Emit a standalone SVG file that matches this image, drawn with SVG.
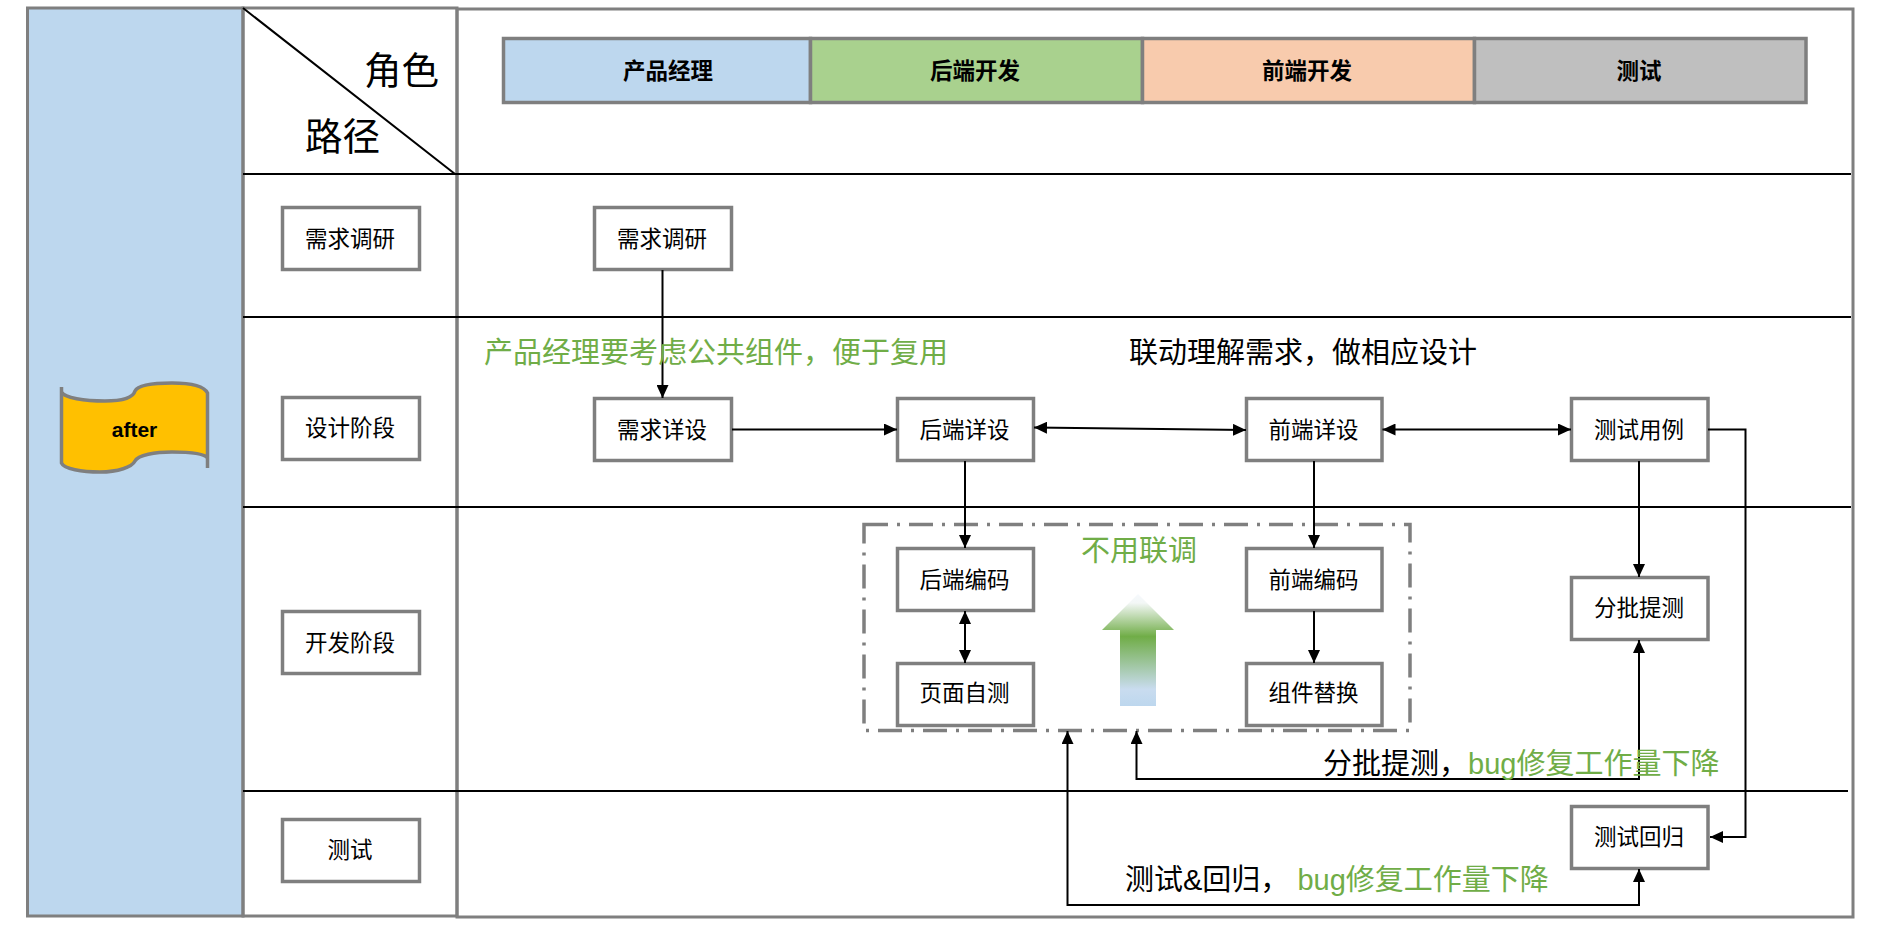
<svg xmlns="http://www.w3.org/2000/svg" width="1880" height="952" viewBox="0 0 1880 952">
<style>
text{font-family:"Noto Sans CJK SC","Liberation Sans",sans-serif;fill:#000}
.box{fill:#fff;stroke:#7f7f7f;stroke-width:3.5}
.lab{font-size:22.5px;text-anchor:middle;dominant-baseline:central}
.hd{font-size:22.5px;font-weight:700;text-anchor:middle;dominant-baseline:central}
.big{font-size:29px}
.g{fill:#70ad47}
.lat{font-family:"Liberation Sans",sans-serif}
.frame{fill:none;stroke:#7f7f7f;stroke-width:3}
.rule{stroke:#000;stroke-width:2;fill:none}
.c{stroke:#000;stroke-width:2;fill:none}
</style>
<defs>
<marker id="a" markerUnits="userSpaceOnUse" markerWidth="14" markerHeight="12" refX="13" refY="6" orient="auto-start-reverse"><path d="M0,0L13,6L0,12Z" fill="#000"/></marker>
<linearGradient id="up" gradientUnits="userSpaceOnUse" x1="0" y1="594" x2="0" y2="706">
<stop offset="0" stop-color="#f6f9fd"/><stop offset=".08" stop-color="#f3f7f6"/><stop offset=".38" stop-color="#70ad47"/><stop offset=".85" stop-color="#c9dcef"/><stop offset="1" stop-color="#bdd7ee"/>
</linearGradient>
</defs>
<g id="frames">
<rect x="27.500" y="8" width="215.500" height="908" fill="#bdd7ee" stroke="#7f7f7f" stroke-width="3"/>
<rect x="243" y="8" width="214" height="908" class="frame" fill="#fff"/>
<rect x="457" y="9" width="1396" height="908" class="frame"/>
<path class="rule" d="M243,8L455,174M243,174H1851M243,317H1851M243,507H1851M243,791H1848"/>
</g>
<g id="flag">
<path d="M61.500,387V392C64,398 85,401 105,401C122,401 133,398 135,391C138,385 155,383 172,383C190,383 204,386 207.500,393V468V458C204,453 188,452 172,452C155,452 138,455 135,461C132,467 118,472 100,472C82,472 64,469 61.500,463Z" fill="#ffc000" stroke="#7f7f7f" stroke-width="3.500"/>
<text x="134.500" y="429.500" font-size="21" font-weight="700" text-anchor="middle" dominant-baseline="central" style="font-family:'Liberation Sans',sans-serif">after</text>
</g>
<g id="corner-role"><text x="364" y="84" font-size="37.500">角色</text></g>
<g id="corner-path"><text x="305" y="150" font-size="37.500">路径</text></g>
<g id="role-pm"><rect x="503.500" y="38.500" width="307" height="64" fill="#bdd7ee" stroke="#7f7f7f" stroke-width="3.500"/><text class="hd" x="668" y="68.500">产品经理</text></g>
<g id="role-be"><rect x="810.500" y="38.500" width="332" height="64" fill="#a9d18e" stroke="#7f7f7f" stroke-width="3.500"/><text class="hd" x="975" y="68.500">后端开发</text></g>
<g id="role-fe"><rect x="1142.500" y="38.500" width="332" height="64" fill="#f8cbad" stroke="#7f7f7f" stroke-width="3.500"/><text class="hd" x="1307" y="68.500">前端开发</text></g>
<g id="role-qa"><rect x="1474.500" y="38.500" width="331.500" height="64" fill="#bfbfbf" stroke="#7f7f7f" stroke-width="3.500"/><text class="hd" x="1639" y="68.500">测试</text></g>
<g id="row-research"><rect class="box" x="282.500" y="207.500" width="137" height="62"/><text class="lab" x="350" y="236.500">需求调研</text></g>
<g id="row-design"><rect class="box" x="282.500" y="397.500" width="137" height="62"/><text class="lab" x="350" y="426">设计阶段</text></g>
<g id="row-dev"><rect class="box" x="282.500" y="611.500" width="137" height="62"/><text class="lab" x="350" y="640.500">开发阶段</text></g>
<g id="row-test"><rect class="box" x="282.500" y="819.500" width="137" height="62"/><text class="lab" x="350" y="848">测试</text></g>
<g id="dashed-group"><rect x="864" y="524.500" width="546" height="206" fill="none" stroke="#7f7f7f" stroke-width="3.500" stroke-dasharray="24 9 3 9"/></g>
<g id="big-arrow"><path d="M1138,594L1174,630H1156V706H1120V630H1102Z" fill="url(#up)"/></g>
<g id="n1"><rect class="box" x="594.500" y="207.500" width="137" height="62"/><text class="lab" x="662" y="236.500">需求调研</text></g>
<g id="n2"><rect class="box" x="594.500" y="398.500" width="137" height="62"/><text class="lab" x="662" y="427.500">需求详设</text></g>
<g id="n3"><rect class="box" x="897.500" y="398.500" width="136" height="62"/><text class="lab" x="964.500" y="427.500">后端详设</text></g>
<g id="n4"><rect class="box" x="1246.500" y="398.500" width="135.500" height="62"/><text class="lab" x="1313.500" y="427.500">前端详设</text></g>
<g id="n5"><rect class="box" x="1571.500" y="398.500" width="136.500" height="62"/><text class="lab" x="1639" y="427.500">测试用例</text></g>
<g id="n6"><rect class="box" x="897.500" y="548.500" width="136" height="62"/><text class="lab" x="964.500" y="577.500">后端编码</text></g>
<g id="n7"><rect class="box" x="897.500" y="663.500" width="136" height="62"/><text class="lab" x="964.500" y="691">页面自测</text></g>
<g id="n8"><rect class="box" x="1246.500" y="548.500" width="135.500" height="62"/><text class="lab" x="1313.500" y="577.500">前端编码</text></g>
<g id="n9"><rect class="box" x="1246.500" y="663.500" width="135.500" height="62"/><text class="lab" x="1313.500" y="691">组件替换</text></g>
<g id="n10"><rect class="box" x="1571.500" y="577.500" width="136.500" height="62"/><text class="lab" x="1639" y="605.500">分批提测</text></g>
<g id="n11"><rect class="box" x="1571.500" y="806.500" width="136.500" height="62"/><text class="lab" x="1639" y="835">测试回归</text></g>
<g id="connectors">
<path class="c" d="M662.500,270V398" marker-end="url(#a)"/>
<path class="c" d="M732,429.500H897" marker-end="url(#a)"/>
<path class="c" d="M1034,427.500L1246,430" marker-start="url(#a)" marker-end="url(#a)"/>
<path class="c" d="M1382.500,429.500H1571" marker-start="url(#a)" marker-end="url(#a)"/>
<path class="c" d="M965,461V548" marker-end="url(#a)"/>
<path class="c" d="M1314,461V548" marker-end="url(#a)"/>
<path class="c" d="M1639,461V577" marker-end="url(#a)"/>
<path class="c" d="M1708,429.500H1745.500V837H1710" marker-end="url(#a)"/>
<path class="c" d="M965,611V663" marker-start="url(#a)" marker-end="url(#a)"/>
<path class="c" d="M1314,611V663" marker-end="url(#a)"/>
<path class="c" d="M1639,640V779H1136.500V731" marker-start="url(#a)" marker-end="url(#a)"/>
<path class="c" d="M1067.500,731V905H1639V869" marker-start="url(#a)" marker-end="url(#a)"/>
</g>
<g id="notes">
<text class="big g" x="484" y="362.500">产品经理要考虑公共组件，便于复用</text>
<text class="big" x="1129" y="362.500">联动理解需求，做相应设计</text>
<text class="big g" x="1081" y="560.500">不用联调</text>
<text class="big" x="1323" y="773.500">分批提测，<tspan class="g lat">bug</tspan><tspan class="g">修复工作量下降</tspan></text>
<text class="big" x="1125" y="889.500">测试<tspan class="lat">&amp;</tspan>回归，<tspan class="g lat" dx="8">bug</tspan><tspan class="g">修复工作量下降</tspan></text>
</g>
</svg>
